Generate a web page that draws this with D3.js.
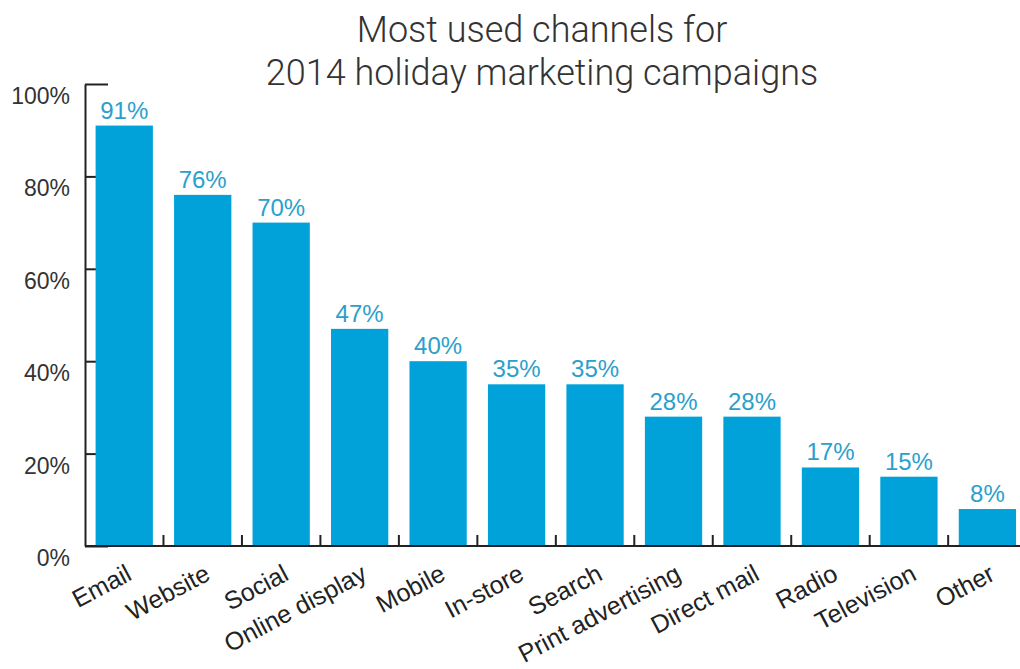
<!DOCTYPE html>
<html>
<head>
<meta charset="utf-8">
<script src="https://cdn.jsdelivr.net/npm/d3@7"></script>
<style>
  body { margin: 0; background: #fff; }
  svg { display: block; }
</style>
</head>
<body>
<svg id="chart" width="1020" height="669"></svg>
<script>
const channels = ['Email', 'Website', 'Social', 'Online display', 'Mobile', 'In-store',
  'Search', 'Print advertising', 'Direct mail', 'Radio', 'Television', 'Other'];
const shares = [91, 76, 70, 47, 40, 35, 35, 28, 28, 17, 15, 8];
const yTicks = [0, 20, 40, 60, 80, 100];
const titleLines = ['Most used channels for', '2014 holiday marketing campaigns'];

const svg = d3.select('#chart');
const plotLeft = 85, plotBase = 546, plotTop = 84;
const sans = '"Liberation Sans", Arial, sans-serif';

const x = d3.scaleBand()
  .domain(channels)
  .range([plotLeft, plotLeft + 12 * 78.47])
  .paddingInner(0.27)
  .paddingOuter(0.135);

const y = d3.scaleLinear()
  .domain([0, 100])
  .range([plotBase, plotTop]);

// title
svg.append('g')
  .selectAll('text')
  .data(titleLines)
  .join('text')
  .attr('x', 542)
  .attr('y', (d, i) => 42 + i * 43)
  .attr('text-anchor', 'middle')
  .attr('font-family', 'Roboto, "Liberation Sans", sans-serif')
  .attr('font-weight', 300)
  .attr('font-size', 36)
  .attr('fill', '#333')
  .text(d => d);

// y axis, ticks drawn inward and hidden behind bars
const yAxis = svg.append('g')
  .attr('transform', `translate(${plotLeft},0)`)
  .call(d3.axisLeft(y)
    .tickValues(yTicks)
    .tickFormat(d => d + '%')
    .tickSizeInner(-23)
    .tickSizeOuter(0)
    .tickPadding(15));

yAxis.select('.domain').attr('stroke', '#222').attr('stroke-width', 2);
yAxis.selectAll('.tick line').attr('stroke', '#222').attr('stroke-width', 2);
yAxis.selectAll('.tick text')
  .attr('dy', '0.85em')
  .attr('font-family', sans)
  .attr('font-size', 23)
  .attr('fill', '#333');

// x baseline + separator ticks
svg.append('line')
  .attr('x1', plotLeft).attr('x2', 1020)
  .attr('y1', plotBase).attr('y2', plotBase)
  .attr('stroke', '#222').attr('stroke-width', 2);

const gap = x.step() * x.paddingInner() / 2;
svg.append('g')
  .selectAll('line')
  .data(channels.slice(1))
  .join('line')
  .attr('x1', d => x(d) - gap)
  .attr('x2', d => x(d) - gap)
  .attr('y1', plotBase)
  .attr('y2', plotBase - 11)
  .attr('stroke', '#222')
  .attr('stroke-width', 2);

// bars
svg.append('g')
  .selectAll('rect')
  .data(channels)
  .join('rect')
  .attr('x', d => x(d))
  .attr('width', x.bandwidth())
  .attr('y', (d, i) => y(shares[i]))
  .attr('height', (d, i) => plotBase - 1 - y(shares[i]))
  .attr('fill', '#00a2d9');

// value labels
svg.append('g')
  .selectAll('text')
  .data(channels)
  .join('text')
  .attr('x', d => x(d) + x.bandwidth() / 2)
  .attr('y', (d, i) => y(shares[i]) - 7)
  .attr('text-anchor', 'middle')
  .attr('font-family', sans)
  .attr('font-size', 24)
  .attr('fill', '#2ba0cb')
  .text((d, i) => shares[i] + '%');

// category labels, rotated
svg.append('g')
  .selectAll('text')
  .data(channels)
  .join('text')
  .attr('transform', d => `translate(${x(d) + x.bandwidth() / 2 + 9},579) rotate(-28)`)
  .attr('text-anchor', 'end')
  .attr('font-family', sans)
  .attr('font-size', 25)
  .attr('fill', '#222')
  .text(d => d);
</script>
</body>
</html>
